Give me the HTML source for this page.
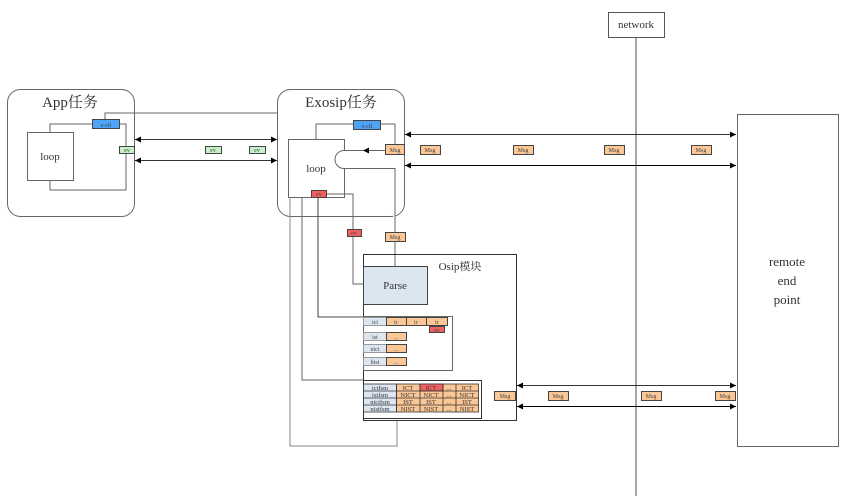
<!DOCTYPE html>
<html><head><meta charset="utf-8"><style>
body{margin:0;background:#fff}
svg{display:block}
text{font-family:"Liberation Serif","Noto Serif CJK SC",serif}
</style></head><body>
<svg width="845" height="496" viewBox="0 0 845 496" xmlns="http://www.w3.org/2000/svg">
<defs>
<marker id="a" viewBox="0 0 6 6" refX="6" refY="3" markerWidth="6" markerHeight="6" orient="auto-start-reverse"><path d="M0,0L6,3L0,6z" fill="#000"/></marker>
</defs>
<g fill="none" stroke="#666" stroke-width="1">
<!-- App -->
<rect x="7.5" y="89.5" width="127" height="127" rx="13"/>
<rect x="27.5" y="132.5" width="46" height="48"/>
<polyline points="50,132 50,124 92,124"/>
<polyline points="105,119 105,113 278,113"/>
<polyline points="119,124 126,124 126,190 50,190 50,180"/>
<!-- Exosip -->
<rect x="277.5" y="89.5" width="127" height="127" rx="13"/>
<rect x="288.5" y="139.5" width="56" height="58" fill="#fff"/>
<polyline points="316,139 316,124 353,124"/>
<polyline points="380,124 395,124 395,144"/>
<path d="M385,150.5 L344,150.5 A9,9 0 0 0 344,168.5 L395,168.5 L395,232" fill="#fff"/>
<line x1="395" y1="241" x2="395" y2="266"/>
<polyline points="326,194 353,194 353,229"/>
<polyline points="353,236 353,284 363,284"/>
<polyline points="290,197 290,446 397,446 397,421" stroke="#888"/>
<polyline points="302,197 302,380 363,380" />
<polyline points="318,197 318,317 363,317" stroke="#444"/>
<!-- Osip -->
<rect x="363.5" y="254.5" width="153" height="166" stroke="#333"/>
<rect x="363.5" y="316.5" width="89" height="54"/>
<rect x="363.5" y="380.5" width="118" height="38" stroke="#333"/>
<!-- network -->
<line x1="636" y1="37" x2="636" y2="496" stroke="#888" stroke-width="1.5"/>
<rect x="608.5" y="12.5" width="56" height="25" stroke="#555"/>
<rect x="737.5" y="114.5" width="101" height="332" stroke="#666"/>
</g>
<g stroke="#333" stroke-width="1" marker-start="url(#a)" marker-end="url(#a)">
<line x1="135" y1="139.5" x2="277" y2="139.5"/>
<line x1="135" y1="160.5" x2="277" y2="160.5"/>
<line x1="405" y1="134.5" x2="736" y2="134.5"/>
<line x1="405" y1="165.5" x2="736" y2="165.5" stroke="#000"/>
<line x1="517" y1="385.5" x2="736" y2="385.5"/>
<line x1="517" y1="406.5" x2="736" y2="406.5" stroke="#000"/>
</g>
<path d="M363,150.5 l6,-3 v6z" fill="#000"/>
<g font-size="6" text-anchor="middle" stroke="#444" stroke-width="1">
<rect x="92.5" y="119.5" width="27" height="9" fill="#4da3f5"/>
<rect x="353.5" y="120.5" width="27" height="9" fill="#4da3f5"/>
<rect x="119.5" y="146.5" width="15" height="7" fill="#c6f0c6"/>
<rect x="205.5" y="146.5" width="16" height="7" fill="#c6f0c6"/>
<rect x="249.5" y="146.5" width="16" height="7" fill="#c6f0c6"/>
<rect x="311.5" y="190.5" width="15" height="7" fill="#f06060"/>
<rect x="347.5" y="229.5" width="14" height="7" fill="#f06060"/>
<rect x="385.5" y="144.5" width="19" height="10" fill="#fbc796"/>
<rect x="385.5" y="232.5" width="20" height="9" fill="#fbc796"/>
<rect x="420.5" y="145.5" width="20" height="9" fill="#fbc796"/>
<rect x="513.5" y="145.5" width="20" height="9" fill="#fbc796"/>
<rect x="604.5" y="145.5" width="20" height="9" fill="#fbc796"/>
<rect x="691.5" y="145.5" width="20" height="9" fill="#fbc796"/>
<rect x="494.5" y="391.5" width="21" height="9" fill="#fbc796"/>
<rect x="548.5" y="391.5" width="20" height="9" fill="#fbc796"/>
<rect x="641.5" y="391.5" width="20" height="9" fill="#fbc796"/>
<rect x="715.5" y="391.5" width="20" height="9" fill="#fbc796"/>
<rect x="363.5" y="266.5" width="64" height="38" fill="#dce6f1"/>
<rect x="363.5" y="317.5" width="23" height="8" fill="#dce6f1" stroke="#999"/>
<rect x="386.5" y="317.5" width="20" height="8" fill="#fbc796"/>
<rect x="406.5" y="317.5" width="20" height="8" fill="#fbc796"/>
<rect x="426.5" y="317.5" width="21" height="8" fill="#fbc796"/>
<rect x="429.5" y="326.5" width="15" height="6" fill="#f06060"/>
<rect x="363.5" y="332.5" width="23" height="8" fill="#dce6f1" stroke="#999"/>
<rect x="386.5" y="332.5" width="20" height="8" fill="#fbc796"/>
<rect x="363.5" y="344.5" width="23" height="8" fill="#dce6f1" stroke="#999"/>
<rect x="386.5" y="344.5" width="20" height="8" fill="#fbc796"/>
<rect x="363.5" y="357.5" width="23" height="8" fill="#dce6f1" stroke="#999"/>
<rect x="386.5" y="357.5" width="20" height="8" fill="#fbc796"/>
</g>
<g font-size="6" text-anchor="middle" fill="#444">
<text x="106" y="127">e-ctl</text><text x="367" y="128">s-ctl</text>
<text x="127" y="152">ev</text><text x="213" y="152">ev</text><text x="257" y="152">ev</text>
<text x="319" y="196">ev</text><text x="354" y="235">ev</text><text x="437" y="332">ev</text>
<text x="395" y="152">Msg</text><text x="395" y="239">Msg</text>
<text x="430" y="152">Msg</text><text x="523" y="152">Msg</text><text x="614" y="152">Msg</text><text x="701" y="152">Msg</text>
<text x="505" y="398">Msg</text><text x="558" y="398">Msg</text><text x="651" y="398">Msg</text><text x="725" y="398">Msg</text>
<text x="375" y="324">ict</text><text x="396" y="324">tr</text><text x="416" y="324">tr</text><text x="437" y="324">tr</text>
<text x="375" y="339">ist</text><text x="396" y="339">...</text>
<text x="375" y="351">nict</text><text x="396" y="351">...</text>
<text x="375" y="364">bist</text><text x="396" y="364">...</text>
</g>
<g font-size="6.5" text-anchor="middle" stroke="#333" stroke-width="0.8">
<rect x="363.5" y="384" width="33" height="28" fill="#dce6f1"/>
<rect x="396.5" y="384" width="82" height="28" fill="#fbc796"/>
<rect x="420" y="384" width="23" height="7" fill="#f06060"/>
<path d="M363,391H479M363,398H479M363,405H479M396.5,384V412M420,384V412M443,384V412M456,384V412" fill="none"/>
</g>
<g font-size="6.5" text-anchor="middle" fill="#333">
<text x="380" y="390">ictfsm</text><text x="408" y="390">ICT</text><text x="431" y="390">ICT</text><text x="449" y="390">...</text><text x="467" y="390">ICT</text>
<text x="380" y="397">istfsm</text><text x="408" y="397">NICT</text><text x="431" y="397">NICT</text><text x="449" y="397">...</text><text x="467" y="397">NICT</text>
<text x="380" y="404">nictfsm</text><text x="408" y="404">IST</text><text x="431" y="404">IST</text><text x="449" y="404">...</text><text x="467" y="404">IST</text>
<text x="380" y="411">nistfsm</text><text x="408" y="411">NIST</text><text x="431" y="411">NIST</text><text x="449" y="411">...</text><text x="467" y="411">NIST</text>
</g>
<g fill="#333" text-anchor="middle">
<text x="70" y="107" font-size="15">App任务</text>
<text x="341" y="107" font-size="15">Exosip任务</text>
<text x="50" y="160" font-size="11">loop</text>
<text x="316" y="172" font-size="11">loop</text>
<text x="395" y="289" font-size="11">Parse</text>
<text x="460" y="270" font-size="11">Osip模块</text>
<text x="636" y="28" font-size="11">network</text>
<text x="787" y="266" font-size="13">remote</text>
<text x="787" y="285" font-size="13">end</text>
<text x="787" y="304" font-size="13">point</text>
</g>
</svg>
</body></html>
